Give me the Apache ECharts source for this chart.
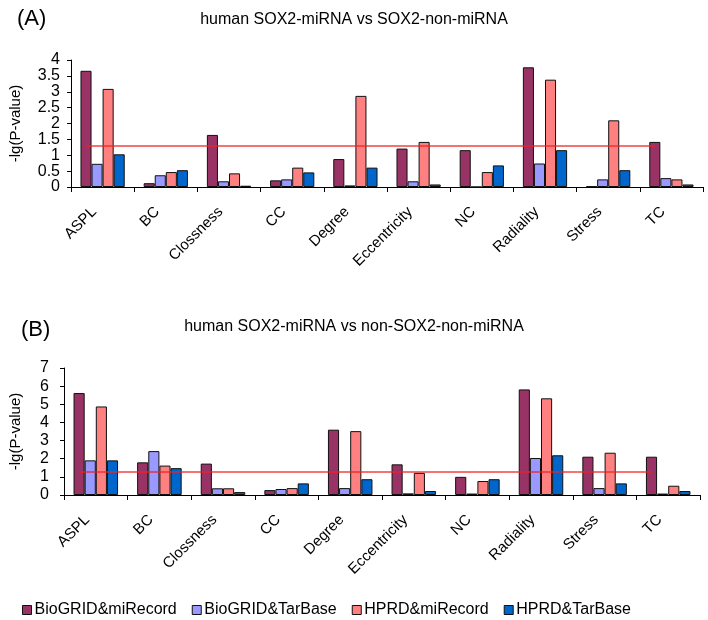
<!DOCTYPE html>
<html><head><meta charset="utf-8">
<script src="https://cdn.jsdelivr.net/npm/echarts@6/dist/echarts.min.js"></script>
<style>html,body{margin:0;padding:0;background:#fff}#c{width:708px;height:620px}</style>
</head><body><div id="c"></div>
<script>
var categories = ['ASPL','BC','Clossness','CC','Degree','Eccentricity','NC','Radiality','Stress','TC'];
var seriesNames = ['BioGRID&miRecord','BioGRID&TarBase','HPRD&miRecord','HPRD&TarBase'];
var colors = ['#993366','#9999FF','#FF8080','#0066CC'];
var threshold = 1.3;
// Panel A: human SOX2-miRNA vs SOX2-non-miRNA
var a_biogrid_mirecord = [3.66,0.12,1.64,0.21,0.88,1.21,1.16,3.77,0.02,1.42];
var a_biogrid_tarbase  = [0.73,0.37,0.18,0.24,0.05,0.18,0.00,0.74,0.24,0.28];
var a_hprd_mirecord    = [3.09,0.47,0.43,0.61,2.87,1.42,0.47,3.38,2.10,0.24];
var a_hprd_tarbase     = [1.03,0.53,0.04,0.46,0.61,0.08,0.68,1.16,0.53,0.08];
// Panel B: human SOX2-miRNA vs non-SOX2-non-miRNA
var b_biogrid_mirecord = [5.62,1.80,1.73,0.27,3.60,1.69,1.00,5.82,2.11,2.11];
var b_biogrid_tarbase  = [1.91,2.42,0.37,0.33,0.38,0.09,0.08,2.04,0.38,0.08];
var b_hprd_mirecord    = [4.88,1.62,0.37,0.38,3.52,1.22,0.77,5.33,2.33,0.51];
var b_hprd_tarbase     = [1.91,1.48,0.16,0.64,0.87,0.22,0.87,2.19,0.64,0.22];
var panelA = [a_biogrid_mirecord,a_biogrid_tarbase,a_hprd_mirecord,a_hprd_tarbase];
var panelB = [b_biogrid_mirecord,b_biogrid_tarbase,b_hprd_mirecord,b_hprd_tarbase];
var yTicksA = {min:0,max:4,interval:0.5};
var yTicksB = {min:0,max:7,interval:1};

var FONT = 'Liberation Sans';
var chart = echarts.init(document.getElementById('c'), null, {renderer:'canvas'});

function xAxis(gi){
  return {type:'category', gridIndex:gi, data:categories, boundaryGap:true,
    axisLine:{lineStyle:{color:'#000',width:1}},
    axisTick:{show:true, length:5, inside:false, lineStyle:{color:'#000'}},
    axisLabel:{rotate:45, fontFamily:FONT, fontSize:15, color:'#000', margin:14, padding:[0,12,0,0], interval:0}};
}
function yAxis(gi, t, gap, lm){
  return {type:'value', gridIndex:gi, min:t.min, max:t.max, interval:t.interval,
    name:'-lg(P-value)', nameLocation:'middle', nameGap:gap, nameRotate:90,
    nameTextStyle:{fontFamily:FONT, fontSize:15, color:'#000'},
    splitLine:{show:false},
    axisLine:{show:true, lineStyle:{color:'#000',width:1}},
    axisTick:{show:true, length:4, lineStyle:{color:'#000'}},
    axisLabel:{fontFamily:FONT, fontSize:16, color:'#000', margin:lm}};
}
var series = [];
function addPanel(data, gi){
  for (var i=0;i<4;i++){
    var s = {type:'bar', name:seriesNames[i], xAxisIndex:gi, yAxisIndex:gi, data:data[i],
      barGap:'0%', barCategoryGap:'30%',
      itemStyle:{color:colors[i], borderColor:'#111', borderWidth:1}};
    if (i===0){
      s.markLine = {silent:true, symbol:'none', label:{show:false},
        lineStyle:{color:'#ee2222', width:1.5, type:'solid', opacity:0.85},
        data:[[{coord:[categories[0],threshold]},{coord:[categories[categories.length-1],threshold]}]]};
    }
    series.push(s);
  }
}
addPanel(panelA,0);
addPanel(panelB,1);

chart.setOption({
  animation:false,
  backgroundColor:'#fff',
  title:[
    {text:'(A)', left:12, top:3, textStyle:{fontFamily:FONT, fontSize:22, fontWeight:'normal', color:'#000'}},
    {text:'human SOX2-miRNA vs SOX2-non-miRNA', left:349, top:7, textAlign:'center', textStyle:{fontFamily:FONT, fontSize:16, fontWeight:'normal', color:'#000'}},
    {text:'(B)', left:16, top:314, textStyle:{fontFamily:FONT, fontSize:22, fontWeight:'normal', color:'#000'}},
    {text:'human SOX2-miRNA vs non-SOX2-non-miRNA', left:349, top:314, textAlign:'center', textStyle:{fontFamily:FONT, fontSize:16, fontWeight:'normal', color:'#000'}}
  ],
  legend:{data:seriesNames, left:17, top:597, itemWidth:9, itemHeight:9, itemGap:15, icon:'rect',
    textStyle:{fontFamily:FONT, fontSize:16, color:'#000', padding:[0,0,0,-2]},
    itemStyle:{borderColor:'#111', borderWidth:1}},
  grid:[
    {left:66, right:5, top:60, height:127},
    {left:53, right:8, top:368, height:127}
  ],
  xAxis:[xAxis(0), xAxis(1)],
  yAxis:[yAxis(0, yTicksA, 48, 11), yAxis(1, yTicksB, 41, 15)],
  series:series
});
</script></body></html>
